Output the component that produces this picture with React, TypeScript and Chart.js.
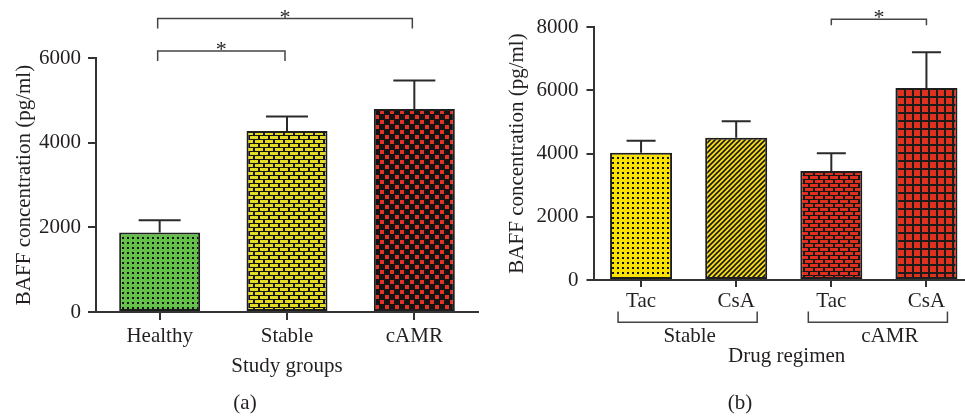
import React, { useEffect, useRef } from "react";
import { Chart, registerables } from "chart.js";

Chart.register(...registerables);

// ---------- data ----------
const groupsA = ["Healthy", "Stable", "cAMR"];
const meansA = [1880, 4275, 4795];
const semA = [285, 345, 675];
const yTicksA = [0, 2000, 4000, 6000];
const sigPairsA = [
  [0, 2],
  [0, 1],
];

const drugsB = ["Tac", "CsA", "Tac", "CsA"];
const meansB = [4020, 4495, 3445, 6075];
const semB = [380, 525, 565, 1125];
const yTicksB = [0, 2000, 4000, 6000, 8000];
const groupsB = ["Stable", "cAMR"];
const groupSpanB = [
  [0, 1],
  [2, 3],
];
const sigPairsB = [[2, 3]];

// ---------- style ----------
const FONT = '"Liberation Serif", "Times New Roman", serif';
const FS = 21;
const AXIS = "#333333";
const TEXT = "#231f20";
const EDGE = "#1e1e1e";

function makePattern(kind: string, bg: string, fg: string): CanvasPattern {
  const c = document.createElement("canvas");
  const x = c.getContext("2d")!;
  if (kind === "dots") {
    c.width = 5;
    c.height = 5;
    x.fillStyle = bg;
    x.fillRect(0, 0, 5, 5);
    x.fillStyle = fg;
    x.fillRect(2, 2, 2, 2);
  } else if (kind === "bricks") {
    c.width = 10;
    c.height = 8;
    x.fillStyle = fg;
    x.fillRect(0, 0, 10, 8);
    x.fillStyle = bg;
    x.fillRect(0, 0, 8, 3);
    x.fillRect(5, 4, 8, 3);
    x.fillRect(-5, 4, 8, 3);
  } else if (kind === "check") {
    c.width = 10;
    c.height = 10;
    x.fillStyle = fg;
    x.fillRect(0, 0, 10, 10);
    x.fillStyle = bg;
    x.fillRect(0, 0, 4, 4);
    x.fillRect(5, 5, 4, 4);
  } else if (kind === "stripes") {
    c.width = 5;
    c.height = 5;
    x.fillStyle = bg;
    x.fillRect(0, 0, 5, 5);
    x.strokeStyle = fg;
    x.lineWidth = 1.6;
    x.beginPath();
    x.moveTo(-1, 6);
    x.lineTo(6, -1);
    x.moveTo(-3, 3);
    x.lineTo(3, -3);
    x.moveTo(2, 8);
    x.lineTo(8, 2);
    x.stroke();
  } else {
    c.width = 8;
    c.height = 8;
    x.fillStyle = bg;
    x.fillRect(0, 0, 8, 8);
    x.fillStyle = fg;
    x.fillRect(0, 0, 8, 2);
    x.fillRect(0, 0, 2, 8);
  }
  return x.createPattern(c, "repeat")!;
}

function drawErrorBars(chart: any, means: number[], sems: number[], capHalf: number) {
  const ctx = chart.ctx;
  const y = chart.scales.y;
  const meta = chart.getDatasetMeta(0);
  ctx.save();
  ctx.strokeStyle = "#2a2a2a";
  ctx.lineWidth = 2;
  means.forEach((m, i) => {
    const px = meta.data[i].x;
    const y0 = y.getPixelForValue(m);
    const y1 = y.getPixelForValue(m + sems[i]);
    ctx.beginPath();
    ctx.moveTo(px, y0);
    ctx.lineTo(px, y1);
    ctx.moveTo(px - capHalf, y1);
    ctx.lineTo(px + capHalf, y1);
    ctx.stroke();
  });
  ctx.restore();
}

function drawSig(chart: any, pairs: number[][], levels: number[], drop: number, dx: number) {
  const ctx = chart.ctx;
  const xs = chart.scales.x;
  ctx.save();
  ctx.strokeStyle = "#444";
  ctx.lineWidth = 1.5;
  ctx.fillStyle = TEXT;
  ctx.font = `22px ${FONT}`;
  ctx.textAlign = "center";
  ctx.textBaseline = "alphabetic";
  pairs.forEach((p, k) => {
    const x0 = xs.getPixelForValue(p[0]) + dx;
    const x1 = xs.getPixelForValue(p[1]) + dx;
    const yy = levels[k];
    ctx.beginPath();
    ctx.moveTo(x0, yy + drop);
    ctx.lineTo(x0, yy);
    ctx.lineTo(x1, yy);
    ctx.lineTo(x1, yy + drop);
    ctx.stroke();
    ctx.fillText("*", (x0 + x1) / 2, yy + 5);
  });
  ctx.restore();
}

function text(ctx: any, s: string, x: number, y: number, size = FS, rot = 0) {
  ctx.save();
  ctx.fillStyle = TEXT;
  ctx.font = `${size}px ${FONT}`;
  ctx.textAlign = "center";
  ctx.textBaseline = "alphabetic";
  ctx.translate(x, y);
  if (rot) ctx.rotate(rot);
  ctx.fillText(s, 0, 0);
  ctx.restore();
}

function scalesFor(yMax: number, yTicks: number[], yWidth: number, xHeight: number, tickLen: number, xPad: number, yPad: number) {
  const tickFont = { family: FONT, size: FS };
  return {
    x: {
      grid: { offset: false, drawOnChartArea: false, drawTicks: true, tickLength: tickLen, color: AXIS, lineWidth: 2 },
      border: { display: true, color: AXIS, width: 2 },
      ticks: { padding: xPad, color: TEXT, font: tickFont, maxRotation: 0 },
      afterFit: (s: any) => {
        s.height = xHeight;
      },
    },
    y: {
      min: 0,
      max: yMax,
      grid: { drawOnChartArea: false, drawTicks: true, tickLength: tickLen, color: AXIS, lineWidth: 2 },
      border: { display: true, color: AXIS, width: 2 },
      ticks: { padding: yPad, color: TEXT, font: tickFont, callback: (v: any) => String(v) },
      afterBuildTicks: (s: any) => {
        s.ticks = yTicks.map((v) => ({ value: v }));
      },
      afterFit: (s: any) => {
        s.width = yWidth;
      },
    },
  };
}

export default function App() {
  const refA = useRef<HTMLCanvasElement>(null);
  const refB = useRef<HTMLCanvasElement>(null);

  useEffect(() => {
    const bgA = [
      makePattern("dots", "#63c14a", "#111"),
      makePattern("bricks", "#e4dc22", "#151515"),
      makePattern("check", "#e23426", "#141414"),
    ];
    const chartA = new Chart(refA.current!, {
      type: "bar",
      data: {
        labels: groupsA,
        datasets: [
          {
            data: meansA,
            backgroundColor: bgA as any,
            borderColor: EDGE,
            borderWidth: 2,
            borderSkipped: false,
            barPercentage: 0.636,
            categoryPercentage: 1,
          },
        ],
      },
      options: {
        responsive: false,
        animation: false,
        layout: { padding: { top: 58, right: 2, left: 0, bottom: 0 } },
        plugins: { legend: { display: false }, tooltip: { enabled: false } },
        scales: scalesFor(6000, yTicksA, 96, 107, 8, 4, 7) as any,
      },
      plugins: [
        {
          id: "overlayA",
          afterDatasetsDraw(chart: any) {
            drawErrorBars(chart, meansA, semA, 21);
            drawSig(chart, sigPairsA, [18.5, 51], 10, -2);
            const ctx = chart.ctx;
            const ca = chart.chartArea;
            text(ctx, "BAFF concentration (pg/ml)", 30, (ca.top + ca.bottom) / 2, FS, -Math.PI / 2);
            text(ctx, "Study groups", (ca.left + ca.right) / 2, 371.5);
            text(ctx, "(a)", 245, 409);
          },
        },
      ],
    });

    const bgB = [
      makePattern("dots", "#fbe100", "#111"),
      makePattern("stripes", "#f7dc16", "#1a1a1a"),
      makePattern("bricks", "#de2f1f", "#161616"),
      makePattern("grid", "#e0301e", "#1c1c1c"),
    ];
    const chartB = new Chart(refB.current!, {
      type: "bar",
      data: {
        labels: drugsB,
        datasets: [
          {
            data: meansB,
            backgroundColor: bgB as any,
            borderColor: EDGE,
            borderWidth: 2,
            borderSkipped: false,
            barPercentage: 0.652,
            categoryPercentage: 1,
          },
        ],
      },
      options: {
        responsive: false,
        animation: false,
        layout: { padding: { top: 27, right: 0, left: 0, bottom: 0 } },
        plugins: { legend: { display: false }, tooltip: { enabled: false } },
        scales: scalesFor(8000, yTicksB, 113.5, 139, 7, 2, 8) as any,
      },
      plugins: [
        {
          id: "overlayB",
          afterDatasetsDraw(chart: any) {
            drawErrorBars(chart, meansB, semB, 14.5);
            drawSig(chart, sigPairsB, [19.3], 6, 0);
            const ctx = chart.ctx;
            const ca = chart.chartArea;
            const xs = chart.scales.x;
            ctx.save();
            ctx.strokeStyle = "#444";
            ctx.lineWidth = 1.5;
            const offs = [2, 12];
            groupSpanB.forEach((g, k) => {
              const x0 = xs.getPixelForValue(g[0]) - 23;
              const x1 = xs.getPixelForValue(g[1]) + 21;
              ctx.beginPath();
              ctx.moveTo(x0, 311.5);
              ctx.lineTo(x0, 322.3);
              ctx.lineTo(x1, 322.3);
              ctx.lineTo(x1, 311.5);
              ctx.stroke();
              text(ctx, groupsB[k], (x0 + x1) / 2 + offs[k], 341.7);
            });
            ctx.restore();
            text(ctx, "BAFF concentration (pg/ml)", 43, (ca.top + ca.bottom) / 2, FS, -Math.PI / 2);
            text(ctx, "Drug regimen", 306.7, 362.3);
            text(ctx, "(b)", 260, 409);
          },
        },
      ],
    });

    return () => {
      chartA.destroy();
      chartB.destroy();
    };
  }, []);

  return (
    <div
      style={{
        position: "fixed",
        left: 0,
        top: 0,
        width: 965,
        height: 419,
        overflow: "hidden",
        background: "#fff",
      }}
    >
      <canvas
        ref={refA}
        width={480}
        height={419}
        style={{ position: "absolute", left: 0, top: 0, width: 480, height: 419 }}
      />
      <canvas
        ref={refB}
        width={494}
        height={419}
        style={{ position: "absolute", left: 480, top: 0, width: 494, height: 419 }}
      />
    </div>
  );
}
